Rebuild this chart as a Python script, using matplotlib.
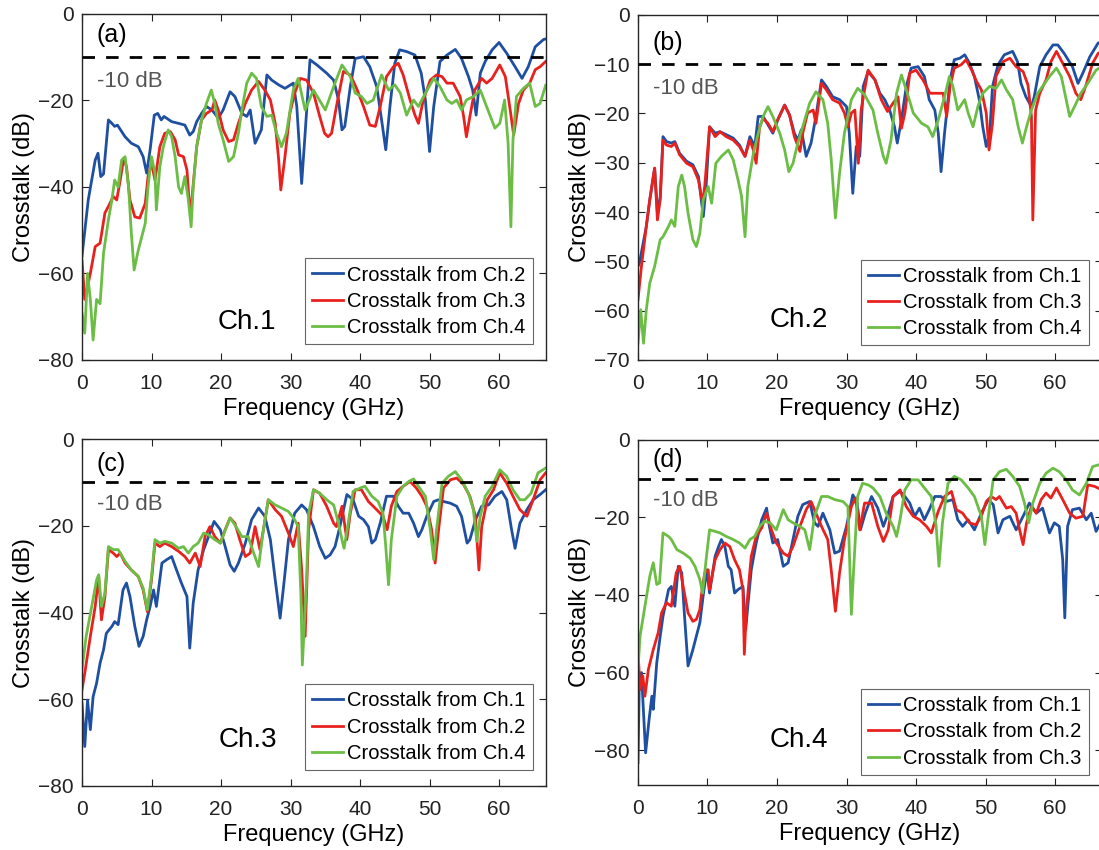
import matplotlib
matplotlib.use("Agg")
import matplotlib.pyplot as plt

plt.rcParams['font.family'] = ['Liberation Sans', 'DejaVu Sans']

# (frequency GHz, crosstalk dB)
a_ch2 = [(0, -56), (0.9, -43), (1.9, -33.8), (2.3, -32.2), (2.7, -37.6), (3.1, -37), (3.8, -24.5), (4.3, -25.3),
         (4.7, -26), (5.1, -25.7), (6.2, -28.4), (7.1, -29.9), (8.1, -30.7), (8.8, -33), (9.3, -36.8), (9.8, -31.4),
         (10.4, -23.4), (10.9, -23), (11.4, -24.5), (11.8, -23.7), (12.9, -24.9), (13.9, -25.3), (14.8, -25.7),
         (15.5, -28), (16.0, -27.2), (16.5, -24.9), (17.2, -23), (17.9, -21.4), (18.7, -22.2), (19.6, -24.1),
         (20.3, -22.2), (21.3, -18), (22.0, -19.1), (23.0, -23), (23.7, -23.7), (24.2, -22.2), (24.9, -29.9),
         (25.8, -26.8), (26.6, -14.1), (27.3, -15.3), (28.3, -16.4), (29.2, -17.2), (30.4, -16.0), (30.9, -21.4),
         (31.6, -39.2), (32.1, -27.6), (32.8, -10.6), (33.8, -11.8), (35.2, -13.7), (36.2, -15.3), (36.9, -19.9),
         (37.4, -26.8), (37.8, -26), (38.6, -16.8), (39.3, -10.3), (40.5, -9.9), (41.4, -12.2), (42.4, -16.8),
         (43.1, -24.5), (43.7, -31.4), (44.3, -21.4), (45.0, -11.4), (45.7, -8.3), (46.7, -8.7), (47.9, -9.5),
         (48.8, -13.7), (49.4, -19.9), (50.0, -31.8), (50.6, -21.4), (51.5, -11), (52.5, -9.5), (53.7, -8.2),
         (54.6, -10.3), (55.6, -14.5), (56.2, -17.6), (56.7, -23.4), (57.3, -13.7), (58.0, -11), (59.0, -8.3),
         (60.0, -6.6), (61.1, -9.1), (62.3, -12.2), (63.3, -14.9), (64.2, -12.2), (65.2, -7.6), (66.4, -5.9),
         (66.7, -5.8)]
a_ch3 = [(0, -57), (0.4, -66), (1.2, -60), (1.9, -53.8), (2.6, -53), (3.3, -46), (3.8, -44.5), (4.5, -42.2),
         (5.0, -43), (5.5, -38.4), (6.0, -33.4), (6.4, -35.3), (6.9, -43), (7.6, -46.9), (8.3, -47.2), (9.1, -43.8),
         (9.5, -37.6), (10.0, -34.5), (10.5, -38.4), (11.2, -30.7), (11.9, -27.6), (12.7, -27.2), (13.4, -29.1),
         (13.9, -32.6), (14.6, -33), (15.1, -36.1), (15.5, -45.3), (15.8, -43), (16.5, -30.7), (17.2, -24.5),
         (17.9, -23), (18.7, -22.2), (19.1, -19.9), (19.6, -22.2), (20.3, -26.8), (21.1, -29.5), (21.8, -29.1),
         (22.5, -25.3), (23.5, -20.7), (24.4, -17.6), (25.4, -15.6), (26.3, -17.6), (27.1, -19.9), (27.8, -25.3),
         (28.3, -33.8), (28.6, -40.7), (29.2, -33), (29.9, -23), (30.6, -18.3), (31.4, -14.9), (32.3, -15.3),
         (33.3, -18.3), (34.2, -23.7), (34.9, -27.6), (35.4, -28.4), (35.9, -27.6), (36.6, -21.4), (37.6, -13.3),
         (38.6, -14.1), (39.5, -17.2), (40.5, -21.4), (41.4, -25.7), (42.2, -26), (42.9, -21.4), (43.8, -14.5),
         (44.8, -12.2), (45.5, -11.4), (46.2, -14.1), (47.2, -19.9), (47.9, -23.4), (48.4, -25.3), (49.1, -19.9),
         (50.1, -15.3), (51.0, -14.1), (51.8, -14.5), (52.5, -16), (53.4, -16), (54.4, -19.1), (54.9, -23.7),
         (55.3, -28.4), (55.8, -23.7), (56.5, -17.6), (57.5, -14.9), (58.2, -16), (59.0, -14.9), (60.1, -11.8),
         (60.9, -14.5), (61.6, -22.2), (62.1, -28), (62.8, -20.7), (63.5, -17.6), (64.4, -16), (65.2, -12.9),
         (65.9, -12.2), (66.7, -11)]
a_ch4 = [(0, -69.2), (0.4, -73.8), (0.8, -60), (1.2, -66), (1.6, -75.4), (2.1, -66), (2.6, -67), (3.1, -55.3),
         (3.8, -47.6), (4.3, -43), (4.7, -38.4), (5.2, -40), (5.7, -33.8), (6.2, -33), (6.7, -40), (7.1, -50.7),
         (7.5, -59.2), (8.1, -54.6), (8.6, -51.5), (9.1, -48.4), (9.5, -40), (10.0, -33), (10.5, -36.8),
         (10.7, -45.3), (11.2, -35.3), (11.7, -30.7), (12.4, -26.8), (12.9, -28.4), (13.4, -33), (13.9, -40),
         (14.3, -41.5), (14.8, -37.6), (15.3, -43), (15.7, -49.2), (16.0, -40), (16.5, -30.7), (17.2, -24.5),
         (17.9, -20.7), (18.6, -17.6), (19.1, -20.7), (19.6, -25.3), (20.3, -29.1), (21.1, -34.1), (21.8, -33),
         (22.5, -27.6), (23.0, -22.2), (23.7, -16), (24.4, -13.7), (25.1, -14.9), (25.8, -21.4), (26.6, -23.7),
         (27.3, -23.4), (28.0, -27.6), (28.7, -30.7), (29.4, -27.6), (30.4, -17.6), (31.1, -14.9), (32.1, -22.2),
         (33.3, -17.6), (35.0, -22.2), (36.2, -16.8), (37.4, -11.8), (38.6, -14.5), (39.3, -18.3), (40.2, -19.1),
         (41.0, -20.7), (41.9, -19.9), (43.1, -14.1), (44.1, -17.6), (45.0, -16.4), (45.8, -18.3), (46.7, -23.4),
         (47.7, -19.9), (48.4, -21.4), (49.4, -18.3), (50.6, -14.9), (51.5, -16.8), (52.5, -19.9), (53.2, -20.7),
         (53.9, -19.9), (54.6, -22.2), (55.3, -19.9), (56.3, -19.1), (57.3, -17.6), (58.2, -21.4), (59.4, -26.4),
         (60.1, -25.3), (60.8, -19.9), (61.3, -29.9), (61.7, -49.2), (62.0, -29.1), (62.5, -19.1), (63.5, -17.2),
         (64.4, -16), (65.2, -21.4), (65.9, -20.7), (66.7, -16.5)]

b_ch1 = [(0, -51), (0.2, -50.4), (1.2, -42.9), (1.7, -37.5), (2.4, -31.1), (2.8, -40.2), (3.2, -36.9), (3.6, -24.7),
         (4.1, -25.7), (4.8, -26), (5.3, -25.7), (6.0, -28.1), (7.0, -29.7), (7.9, -30.4), (8.7, -32.8), (9.4, -40.9),
         (9.8, -34.8), (10.3, -22.7), (11.1, -24), (11.8, -23.7), (12.7, -24.3), (13.7, -25), (14.6, -26.4),
         (15.4, -28.7), (16.1, -24.7), (16.8, -26.7), (17.3, -20.6), (18.0, -20.6), (18.7, -22.3), (19.4, -24),
         (20.1, -21.3), (21.1, -18.3), (21.8, -20.3), (22.5, -24), (23.0, -25.4), (23.5, -23.3), (24.2, -28.7),
         (24.9, -26), (25.6, -20.6), (26.4, -13.2), (27.1, -14.5), (28.0, -16.6), (29.0, -17.2), (30.0, -18.6),
         (30.4, -24), (30.9, -36.2), (31.4, -26.7), (31.9, -28.7), (32.4, -14.5), (33.1, -11.5), (34.1, -13.2),
         (34.8, -15.9), (35.5, -17.2), (36.2, -19.3), (36.9, -22.7), (37.3, -26), (37.9, -21.3), (38.6, -14.5),
         (39.3, -10.8), (40.3, -10.5), (41.2, -12.5), (41.9, -17.2), (42.7, -19.3), (43.2, -24), (43.6, -31.8),
         (44.1, -24), (44.9, -13.2), (45.5, -9.1), (46.3, -8.8), (47.0, -8.1), (47.7, -9.8), (48.4, -12.5),
         (49.1, -17.2), (49.6, -22.7), (50.1, -26.7), (50.6, -24), (51.0, -14.5), (51.8, -10.1), (52.7, -8.1),
         (53.9, -7.4), (54.6, -9.5), (55.1, -13.9), (55.8, -16.6), (56.6, -18.6), (57.0, -16.6), (57.8, -10.5),
         (58.7, -8.1), (59.7, -6.1), (60.4, -6.1), (61.3, -7.8), (62.5, -10.5), (63.3, -13.9), (64.0, -11.8),
         (65.0, -8.5), (66.2, -5.7), (66.7, -5.5)]
b_ch3 = [(0, -57.8), (0.5, -51), (1.2, -42.9), (1.7, -37.5), (2.2, -32.8), (2.4, -31.1), (2.8, -41.6), (3.2, -37.5),
         (3.6, -25.4), (4.1, -26.4), (4.8, -26.7), (5.3, -26), (6.0, -28.4), (7.0, -30.1), (7.9, -30.8), (8.7, -33.5),
         (9.3, -38.2), (9.6, -34.8), (10.3, -22.7), (11.1, -24.7), (11.8, -23.7), (12.7, -24.7), (13.7, -25.4),
         (14.6, -26.7), (15.4, -28.7), (16.1, -25.4), (16.6, -27.4), (17.0, -30.1), (17.5, -22.7), (18.0, -21),
         (18.7, -22), (19.4, -23.7), (20.1, -21.3), (21.1, -18.3), (21.8, -20.3), (22.5, -24.7), (23.3, -27.7),
         (23.7, -24), (24.4, -19.9), (25.2, -19.3), (25.6, -22), (26.4, -13.9), (27.1, -15.2), (28.0, -17.2),
         (29.0, -17.9), (29.7, -19.9), (30.2, -22.7), (30.7, -19.9), (31.2, -19.3), (31.7, -30.1), (32.1, -19.3),
         (33.1, -11.2), (34.1, -13.2), (35.0, -17.2), (35.9, -19.6), (36.7, -17.9), (37.4, -16.6), (37.9, -23),
         (38.4, -19.9), (39.1, -11.8), (40.0, -11.2), (41.0, -13.2), (42.0, -15.9), (43.0, -15.9), (43.9, -15.9),
         (44.4, -20.6), (44.9, -14.5), (45.5, -10.8), (46.5, -10.1), (47.2, -9.1), (48.0, -11.2), (48.7, -13.5),
         (49.4, -15.2), (50.1, -19.9), (50.5, -27.4), (51.0, -22), (51.5, -12.5), (52.5, -9.5), (53.5, -8.8),
         (54.4, -10.5), (55.4, -11.5), (56.1, -14.2), (56.6, -20.6), (56.8, -41.6), (57.2, -19.3), (57.8, -15.9),
         (58.7, -13.2), (59.4, -9.5), (60.2, -7.4), (61.1, -9.8), (62.1, -12.5), (63.0, -15.9), (63.7, -17.2),
         (64.4, -14.5), (65.4, -9.8), (66.2, -7.8), (66.7, -7.5)]
b_ch4 = [(0, -66.6), (0.4, -59.8), (0.8, -66.6), (1.2, -59.8), (1.7, -54.4), (2.4, -51), (3.2, -45.6), (3.6, -45),
         (4.4, -42.9), (4.8, -41.6), (5.3, -42.9), (5.8, -34.8), (6.3, -32.5), (6.7, -34.8), (7.2, -40.2),
         (7.9, -45.6), (8.4, -47), (8.9, -44.3), (9.4, -37.5), (10.1, -34.8), (10.6, -38.2), (11.2, -30.1),
         (12.0, -28.7), (13.0, -27.4), (13.7, -29.4), (14.4, -33.5), (14.9, -36.8), (15.4, -45), (15.8, -34.8),
         (16.6, -28.1), (17.3, -24), (18.0, -20.6), (18.7, -18.6), (19.4, -20.6), (20.4, -24), (21.1, -27.4),
         (21.7, -31.8), (22.3, -30.1), (23.0, -26), (23.7, -22.7), (24.7, -17.9), (25.6, -15.6), (26.6, -17.2),
         (27.3, -22), (27.8, -29.4), (28.4, -41.2), (29.0, -32.1), (29.7, -24), (30.7, -17.2), (31.6, -14.9),
         (32.6, -16.2), (33.8, -19.3), (34.5, -24), (35.3, -28.7), (35.7, -30.1), (36.4, -25.4), (37.2, -15.9),
         (37.9, -12.2), (38.6, -15.2), (39.6, -19.9), (40.8, -22), (41.7, -22.7), (42.4, -24.7), (43.2, -21.3),
         (44.1, -16.6), (44.8, -12.5), (45.3, -14.5), (46.0, -19.3), (47.0, -17.2), (47.5, -19.9), (48.2, -22.7),
         (48.9, -18.6), (49.6, -15.9), (50.6, -14.5), (51.5, -14.9), (52.3, -13.2), (53.0, -15.2), (53.9, -17.2),
         (54.7, -22.7), (55.3, -26), (55.9, -22.7), (56.6, -19.3), (57.5, -15.9), (58.2, -14.5), (59.2, -12.5),
         (60.2, -10.8), (60.9, -12.5), (61.6, -17.2), (62.1, -20.6), (62.8, -18.6), (63.7, -15.9), (64.7, -13.9),
         (65.9, -11.2), (66.7, -10.5)]

c_ch1 = [(0, -60.9), (0.4, -70.9), (0.8, -60.2), (1.2, -67), (1.6, -59.4), (2.1, -56.3), (2.6, -51.7), (3.1, -48.6),
         (3.5, -44.8), (4.3, -43.2), (4.7, -42.1), (5.2, -42.8), (5.9, -34.8), (6.4, -33.2), (6.9, -36.3),
         (7.6, -43.2), (8.2, -47.8), (8.8, -45.5), (9.3, -41.7), (9.8, -38.6), (10.3, -34.8), (10.7, -38.6),
         (11.5, -28.6), (12.2, -27.8), (12.9, -27.1), (13.6, -30.2), (14.3, -33.2), (15.1, -36.3), (15.5, -48.2),
         (16.0, -37.8), (16.7, -30.2), (17.5, -25.5), (18.2, -22.5), (19.0, -19), (19.9, -20.9), (20.6, -24.8),
         (21.3, -29), (21.9, -30.5), (22.5, -28.6), (23.5, -24), (24.4, -18.6), (25.4, -15.9), (26.3, -17.8),
         (27.1, -23.2), (27.8, -32.5), (28.5, -41.3), (29.1, -32.5), (29.7, -23.2), (30.6, -17.1), (31.6, -15.2),
         (32.3, -16.3), (33.3, -20.2), (34.2, -24.8), (35.0, -27.5), (35.7, -26.7), (36.4, -24.8), (37.1, -20.2),
         (38.1, -12.8), (39.0, -14), (39.8, -17.8), (40.5, -18.6), (41.2, -20.2), (41.7, -24), (42.2, -23.2),
         (42.9, -19.4), (43.8, -13.2), (44.8, -13.2), (45.5, -15.5), (46.2, -17.1), (47.0, -17.1), (47.7, -19.4),
         (48.4, -22.5), (48.9, -20.9), (49.6, -17.8), (50.6, -14.4), (51.3, -14), (52.0, -14.4), (53.0, -14.8),
         (53.9, -15.5), (54.6, -17.8), (55.4, -24), (55.8, -23.2), (56.6, -18.6), (57.5, -15.5), (58.5, -15.2),
         (59.4, -13.2), (60.4, -12.1), (61.1, -14), (61.8, -20.9), (62.3, -25.2), (63.0, -19.4), (64.0, -16.3),
         (64.9, -14), (65.9, -12.8), (66.7, -11.7)]
c_ch2 = [(0, -57.8), (0.4, -54), (1.2, -45.5), (1.9, -38.6), (2.4, -31.7), (2.8, -41.7), (3.3, -36.3), (3.8, -25.5),
         (4.5, -26.3), (5.0, -27.1), (5.5, -26.3), (6.2, -28.6), (7.1, -30.2), (8.1, -31.7), (8.8, -34.8),
         (9.4, -39.8), (10.0, -32.5), (10.5, -24), (11.2, -24.8), (11.9, -24), (12.9, -24.8), (13.9, -25.9),
         (14.8, -27.1), (15.5, -28.6), (16.3, -26.3), (17.0, -29.4), (17.7, -22.5), (18.4, -20.2), (19.1, -22.5),
         (19.9, -24), (20.6, -20.9), (21.3, -18.2), (22.0, -19.4), (22.7, -23.2), (23.5, -27.1), (24.2, -26.3),
         (24.9, -20.2), (25.6, -25.5), (26.1, -20.9), (26.8, -14), (27.8, -16.3), (28.7, -17.8), (29.7, -21.7),
         (30.4, -24.8), (31.1, -19.4), (31.6, -30), (32.1, -45.5), (32.6, -20.9), (33.3, -11.7), (34.2, -12.5),
         (35.2, -15.5), (36.2, -19.4), (36.6, -20.2), (37.4, -15.5), (38.1, -23.2), (38.6, -17.1), (39.3, -11.7),
         (40.2, -11.7), (41.2, -14.4), (42.4, -16.3), (43.3, -17.8), (43.9, -20.9), (44.5, -15.5), (45.3, -12.1),
         (46.2, -10.9), (47.2, -9.8), (48.1, -11.3), (48.9, -13.2), (49.6, -15.5), (50.3, -20.9), (50.8, -28.6),
         (51.3, -20.9), (52.0, -11.3), (53.0, -9.4), (53.9, -9), (54.9, -10.5), (55.8, -13.2), (56.6, -17.8),
         (57.1, -30.2), (57.5, -20.2), (58.3, -14), (59.2, -11.7), (60.1, -7.8), (61.1, -10.2), (62.0, -13.2),
         (63.0, -16.3), (64.0, -17.8), (64.9, -14), (65.9, -9.4), (66.7, -7.8)]
c_ch4 = [(0, -53.2), (0.6, -45.5), (1.4, -38.6), (2.1, -32.5), (2.4, -31.3), (2.8, -38.6), (3.3, -35.5), (3.8, -24.8),
         (4.5, -25.5), (5.2, -25.5), (6.2, -28.2), (7.1, -30.2), (8.1, -31.7), (8.8, -34.4), (9.4, -39.4),
         (10.0, -31.7), (10.5, -23.2), (11.2, -24), (11.9, -23.6), (12.9, -24), (13.9, -25.2), (14.6, -24.8),
         (15.3, -26.3), (16.0, -24.8), (16.7, -24), (17.5, -21.7), (18.2, -22.1), (19.1, -23.2), (19.9, -24),
         (20.8, -20.2), (21.3, -18.2), (22.0, -19.8), (23.0, -22.5), (23.9, -22.5), (24.7, -26.3), (25.4, -29.4),
         (26.1, -20.9), (26.8, -14), (27.8, -15.2), (28.7, -15.9), (29.7, -16.7), (30.6, -18.6), (31.1, -20.2),
         (31.5, -36.3), (31.7, -52.1), (32.3, -32.5), (32.6, -17.1), (33.3, -11.7), (34.2, -12.5), (35.2, -14),
         (36.2, -15.2), (36.9, -19.4), (37.4, -23.2), (37.7, -25.2), (38.3, -19.4), (39.0, -12.1), (40.0, -11.3),
         (40.7, -10.9), (41.7, -13.2), (42.6, -14.4), (43.3, -17.1), (43.7, -24.8), (44.1, -33.6), (44.5, -23.2),
         (45.3, -13.2), (46.2, -10.9), (47.0, -9.8), (47.7, -9.2), (48.4, -10.9), (49.4, -13.2), (50.1, -20.9),
         (50.6, -27.8), (51.0, -20.9), (51.8, -10.2), (52.7, -8.6), (53.7, -7.5), (54.6, -9.4), (55.6, -12.5),
         (56.3, -16.3), (56.8, -23.6), (57.3, -17.8), (58.0, -13.2), (59.0, -10.9), (60.1, -7.1), (61.1, -8.6),
         (62.0, -11.7), (63.0, -14), (63.7, -14), (64.6, -12.5), (65.6, -7.8), (66.7, -6.7)]

d_ch1 = [(0, -83.2), (0.2, -61.8), (0.5, -60), (1.1, -80.7), (1.6, -72.1), (2.0, -66.1), (2.2, -69.5), (2.7, -57.5),
         (3.2, -50.6), (3.6, -45.5), (4.4, -38.6), (4.8, -37.8), (5.3, -42.9), (5.8, -32.6), (6.3, -34.3),
         (6.7, -45.5), (7.2, -58.3), (7.9, -54.1), (8.4, -50.6), (8.9, -47.2), (9.4, -39.9), (9.9, -33.5),
         (10.3, -39.5), (11.1, -30), (11.6, -27.5), (12.0, -25.7), (12.5, -27.5), (13.0, -32.6), (13.4, -33.5),
         (13.9, -39.5), (14.4, -38.6), (15.1, -37.8), (15.5, -48.9), (15.8, -42.9), (16.3, -33.5), (17.0, -26.6),
         (17.8, -20.6), (18.5, -17.6), (18.9, -22.3), (19.4, -26.6), (20.1, -25.7), (20.9, -32.6), (21.6, -31.7),
         (22.3, -25.7), (23.0, -19.7), (23.7, -16.7), (24.7, -15.9), (25.4, -21.4), (25.9, -22.3), (26.6, -18.9),
         (27.6, -23.2), (28.3, -29.2), (29.0, -28.7), (30.0, -22.3), (30.9, -14.2), (31.5, -16), (32.0, -23.2),
         (32.7, -18.9), (33.6, -14.6), (34.5, -17.6), (35.3, -22.3), (36.0, -18.9), (36.7, -14.6), (37.7, -13.3),
         (38.4, -14.6), (39.1, -16.3), (39.8, -19.7), (40.5, -17.6), (41.2, -20.6), (41.9, -18), (42.7, -14.6),
         (43.6, -14.6), (44.3, -15.9), (45.3, -15.4), (46.0, -20.6), (46.7, -22.3), (47.5, -20.6), (48.4, -23.2),
         (49.4, -18.9), (50.4, -15.4), (51.1, -16.7), (51.8, -24), (52.5, -20.6), (53.5, -19.7), (54.4, -23.2),
         (55.4, -19.7), (56.3, -16.3), (57.3, -18.9), (58.2, -17.6), (59.2, -24), (59.9, -21.4), (60.6, -22.3),
         (61.1, -30.9), (61.4, -45.9), (61.8, -22.3), (62.5, -18), (63.5, -17.6), (64.5, -20.6), (65.2, -18.9),
         (65.9, -23.6), (66.7, -21)]
d_ch2 = [(0, -54.1), (0.3, -64.4), (0.7, -60.9), (1.0, -66.1), (1.5, -59.2), (2.2, -54.1), (2.9, -49.8), (3.4, -44.6),
         (4.1, -42), (4.8, -42.9), (5.5, -34.3), (6.0, -32.6), (6.5, -37.8), (7.2, -44.6), (7.9, -46.8),
         (8.4, -46.3), (8.9, -43.8), (9.1, -40.3), (9.6, -34.3), (10.1, -33.5), (10.3, -38.6), (11.1, -30.9),
         (11.8, -28.3), (12.5, -26.6), (13.2, -27.5), (13.9, -30.9), (14.6, -33.5), (15.1, -38.6), (15.3, -55.3),
         (15.6, -43.8), (16.3, -30), (17.0, -24.9), (17.8, -22.7), (18.5, -18.9), (19.2, -23.2), (19.9, -26.6),
         (20.9, -29.2), (21.6, -30), (22.3, -27.5), (23.3, -22.3), (24.2, -18), (24.9, -15.9), (25.6, -18.9),
         (26.4, -22.3), (27.3, -25.7), (27.8, -33.5), (28.4, -44.2), (29.0, -34.3), (29.7, -25.7), (30.7, -17.2),
         (31.3, -15), (31.9, -23.2), (32.6, -16.3), (33.6, -16.3), (34.5, -22.3), (35.3, -26.2), (36.0, -23.2),
         (36.7, -14.6), (37.7, -12.9), (38.6, -17.2), (39.6, -19.7), (40.5, -20.6), (41.5, -22.3), (42.2, -24),
         (43.2, -18.4), (44.1, -14.6), (45.1, -13.3), (45.8, -18), (46.7, -18.9), (47.7, -21.4), (48.6, -21.9),
         (49.4, -19.7), (50.1, -15.9), (50.8, -14.6), (51.5, -15.4), (52.0, -14.6), (53.0, -17.6), (53.7, -17.2),
         (54.4, -18.9), (54.9, -23.2), (55.4, -27), (55.9, -21.4), (56.6, -17.2), (57.3, -18.9), (58.0, -15.4),
         (58.7, -13.7), (59.4, -15), (60.2, -12.4), (61.1, -15.4), (62.1, -18.9), (63.0, -20.2), (64.0, -19.7),
         (64.7, -11.6), (65.7, -12), (66.7, -12.9)]
d_ch3 = [(0, -59.2), (0.3, -50.6), (1.0, -42.9), (1.7, -35.2), (2.2, -31.7), (2.7, -37.3), (3.1, -36.9), (3.6, -24),
         (4.4, -24.9), (4.8, -25.7), (5.6, -28.3), (6.5, -29.2), (7.5, -30.5), (8.2, -32.6), (8.9, -36),
         (9.3, -39.5), (9.8, -30.9), (10.3, -23.2), (11.1, -23.6), (11.8, -24), (12.7, -24.9), (13.7, -25.7),
         (14.6, -26.6), (15.4, -27.9), (16.1, -25.7), (16.8, -24.9), (17.5, -22.3), (18.2, -21), (19.0, -21.4),
         (19.9, -23.2), (20.9, -18), (21.6, -20.6), (22.3, -21.4), (23.3, -22.3), (24.0, -23.2), (24.7, -28.3),
         (25.4, -19.7), (26.4, -14.6), (27.3, -14.6), (28.3, -15.4), (29.5, -15.9), (30.2, -17.2), (30.7, -45),
         (31.0, -34.3), (31.6, -14.6), (32.3, -11.2), (33.1, -11.6), (33.8, -12.4), (34.8, -14.6), (35.7, -18.9),
         (36.7, -22.3), (37.2, -24.9), (37.7, -20.6), (38.4, -12.9), (39.3, -10.3), (40.3, -10.3), (41.2, -12.4),
         (42.2, -14.6), (42.9, -22.3), (43.3, -32.6), (43.8, -21.4), (44.6, -11.2), (45.5, -9.4), (46.5, -10.3),
         (47.5, -12.4), (48.4, -14.6), (49.4, -19.7), (49.9, -27), (50.4, -19.7), (51.1, -10.3), (52.0, -8.2),
         (53.0, -7.6), (53.9, -9.4), (54.9, -12), (55.6, -16.3), (56.2, -21.4), (56.8, -16.3), (57.8, -11.2),
         (58.7, -8.6), (59.7, -7.3), (60.6, -8.2), (61.6, -10.3), (62.5, -12.9), (63.5, -14.2), (64.5, -11.2),
         (65.4, -6.9), (66.7, -6.2)]

panel_tags = ['(a)', '(b)', '(c)', '(d)']
channel_names = ['Ch.1', 'Ch.2', 'Ch.3', 'Ch.4']
legend_labels = [['Crosstalk from Ch.2', 'Crosstalk from Ch.3', 'Crosstalk from Ch.4'],
                 ['Crosstalk from Ch.1', 'Crosstalk from Ch.3', 'Crosstalk from Ch.4'],
                 ['Crosstalk from Ch.1', 'Crosstalk from Ch.2', 'Crosstalk from Ch.4'],
                 ['Crosstalk from Ch.1', 'Crosstalk from Ch.2', 'Crosstalk from Ch.3']]
curves = [[a_ch2, a_ch3, a_ch4], [b_ch1, b_ch3, b_ch4], [c_ch1, c_ch2, c_ch4], [d_ch1, d_ch2, d_ch3]]
y_limits = [(-80, 0), (-70, 0), (-80, 0), (-89, 0)]
y_steps = [20, 10, 20, 20]
threshold = -10

colors = ['#1f4fa0', '#e8211e', '#6cbd45']

fig = plt.figure(figsize=(10.99, 8.5), dpi=100)
rects = [[0.0746, 0.5765, 0.4219, 0.4071],
         [0.5805, 0.5765, 0.4219, 0.4060],
         [0.0746, 0.0753, 0.4219, 0.4082],
         [0.5805, 0.0765, 0.4219, 0.4060]]
tag_y = [0.939, 0.919, 0.928, 0.942]
db_y = [0.804, 0.788, 0.810, 0.824]
ch_pos = [(0.356, 0.11), (0.347, 0.116), (0.357, 0.133), (0.347, 0.13)]
leg_y = [0.046, 0.043, 0.046, 0.03]

for i in range(4):
    ax = fig.add_axes(rects[i])
    for data, col, lab in zip(curves[i], colors, legend_labels[i]):
        f, db = zip(*data)
        ax.plot(f, db, color=col, lw=2.0, label=lab)
    ax.axhline(threshold, color='black', lw=2.0, linestyle=(0, (4.5, 4)), zorder=5)

    ax.set_xlim(0, 66.7)
    lo, hi = y_limits[i]
    ax.set_ylim(lo, hi)
    ax.set_xticks(range(0, 70, 10))
    ax.set_yticks(range(0, lo - 1, -y_steps[i]))
    ax.tick_params(direction='in', top=True, right=True, labelsize=15, length=5,
                   width=0.8, colors='#222222')
    ax.tick_params(axis='x', pad=10)
    ax.tick_params(axis='y', pad=6)
    for sp in ax.spines.values():
        sp.set_linewidth(1.0)
        sp.set_color('#262626')
    ax.set_xlabel('Frequency (GHz)', fontsize=17, labelpad=4)
    ax.set_ylabel('Crosstalk (dB)', fontsize=17, labelpad=2)

    ax.text(0.032, tag_y[i], panel_tags[i], transform=ax.transAxes, fontsize=18,
            va='center', ha='left')
    ax.text(0.032, db_y[i], '-10 dB', transform=ax.transAxes, fontsize=16,
            va='center', ha='left', color='#555555')
    ax.text(ch_pos[i][0], ch_pos[i][1], channel_names[i], transform=ax.transAxes,
            fontsize=20, va='center', ha='center')

    leg = ax.legend(loc='lower right', bbox_to_anchor=(0.972, leg_y[i]), borderaxespad=0,
                    fontsize=14.5, handlelength=1.55, handletextpad=0.2, labelspacing=0.36,
                    borderpad=0.35, fancybox=False, framealpha=1)
    leg.get_frame().set_edgecolor('#666666')
    leg.get_frame().set_linewidth(0.8)

fig.savefig('out.png', dpi=100)
